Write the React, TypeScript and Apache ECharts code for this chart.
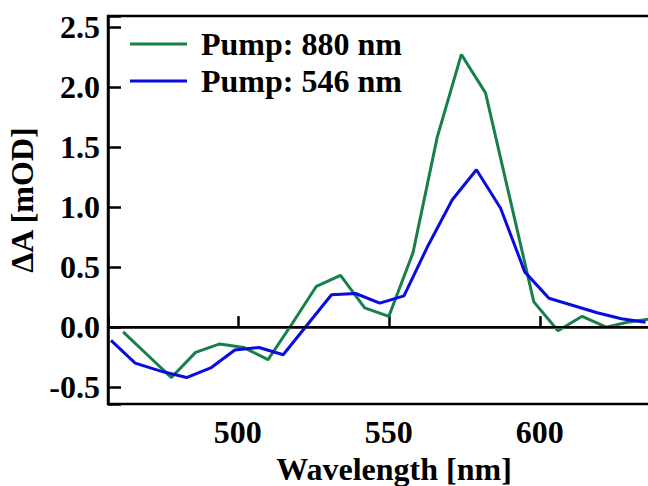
import React, { useEffect, useRef } from "react";
import * as echarts from "echarts";

// Pump: 880 nm
const wavelength880 = [462, 470, 478, 486, 494, 502, 510, 518, 526, 534, 542, 550, 558, 566, 574, 582, 590, 598, 606, 614, 622, 629, 637];
const deltaA880 = [-0.04, -0.23, -0.42, -0.21, -0.14, -0.17, -0.27, 0.03, 0.34, 0.43, 0.16, 0.09, 0.62, 1.58, 2.27, 1.95, 1.08, 0.21, -0.03, 0.09, 0.0, 0.04, 0.07];

// Pump: 546 nm
const wavelength546 = [458, 466, 475, 483, 491, 499, 507, 515, 523, 531, 539, 547, 555, 563, 571, 579, 587, 595, 603, 611, 619, 627, 635];
const deltaA546 = [-0.11, -0.3, -0.37, -0.42, -0.34, -0.19, -0.17, -0.23, 0.02, 0.27, 0.28, 0.2, 0.26, 0.68, 1.06, 1.31, 0.99, 0.46, 0.24, 0.18, 0.12, 0.07, 0.04];

const seriesNames = ["Pump: 880 nm", "Pump: 546 nm"];
const seriesColors = ["#17804a", "#0a0ae2"];

const FONT = "Liberation Serif, Times New Roman, serif";

export default function App() {
  const ref = useRef<HTMLDivElement>(null);
  useEffect(() => {
    if (!ref.current) return;
    const chart = echarts.init(ref.current, undefined, { renderer: "svg" });
    const textBase = { fontFamily: FONT, fontWeight: "bold" as const, fontSize: 32, color: "#000" };
    chart.setOption({
      animation: false,
      backgroundColor: "#fff",
      grid: {
        left: 108,
        top: 16,
        width: 572,
        height: 388,
        containLabel: false,
        outerBoundsMode: "none",
        show: true,
        borderColor: "#000",
        borderWidth: 2.5,
        backgroundColor: "transparent",
      },
      legend: {
        orient: "vertical",
        left: 130,
        top: 26,
        padding: 0,
        icon: "rect",
        itemWidth: 57,
        itemHeight: 3,
        itemGap: 1,
        data: seriesNames,
        textStyle: { ...textBase, lineHeight: 36, padding: [0, 0, 0, 9] },
      },
      xAxis: {
        type: "value",
        min: 457,
        max: 646.4,
        splitNumber: 4,
        name: "Wavelength [nm]",
        nameLocation: "middle",
        nameGap: 35,
        nameTextStyle: { ...textBase },
        axisLine: { show: true, lineStyle: { color: "#000", width: 2.5 } },
        axisTick: { show: true, inside: true, length: 11, lineStyle: { color: "#000", width: 2.5 } },
        axisLabel: {
          ...textBase,
          margin: 12,
          formatter: (v: number) => (Math.abs(v % 50) < 1e-6 ? String(v) : ""),
        },
        splitLine: { show: false },
      },
      yAxis: {
        type: "value",
        min: -0.64,
        max: 2.59,
        splitNumber: 6,
        name: "ΔA [mOD]",
        nameLocation: "middle",
        nameRotate: 90,
        nameGap: 60,
        nameTextStyle: { ...textBase, padding: [0, 0, 0, 20] },
        axisLine: { show: true, lineStyle: { color: "#000", width: 2.5 } },
        axisTick: { show: true, inside: true, length: 13, lineStyle: { color: "#000", width: 2.5 } },
        axisLabel: {
          ...textBase,
          margin: 8,
          formatter: (v: number) => {
            const k = v * 2;
            return Math.abs(k - Math.round(k)) < 1e-6 ? v.toFixed(1) : "";
          },
        },
        splitLine: { show: false },
      },
      series: [
        {
          name: seriesNames[0],
          type: "line",
          symbol: "none",
          color: seriesColors[0],
          lineStyle: { color: seriesColors[0], width: 3 },
          data: wavelength880.map((w, i) => [w, deltaA880[i]]),
          z: 3,
          markLine: {
            silent: true,
            symbol: ["none", "none"],
            label: { show: false },
            lineStyle: { color: "#000", width: 2, type: "solid" },
            data: [{ yAxis: 0 }],
          },
        },
        {
          name: seriesNames[1],
          type: "line",
          symbol: "none",
          color: seriesColors[1],
          lineStyle: { color: seriesColors[1], width: 3 },
          data: wavelength546.map((w, i) => [w, deltaA546[i]]),
          z: 3,
        },
      ],
    });
    return () => chart.dispose();
  }, []);
  return (
    <div
      ref={ref}
      style={{ position: "fixed", left: 0, top: 0, width: 648, height: 486, background: "#fff" }}
    />
  );
}
